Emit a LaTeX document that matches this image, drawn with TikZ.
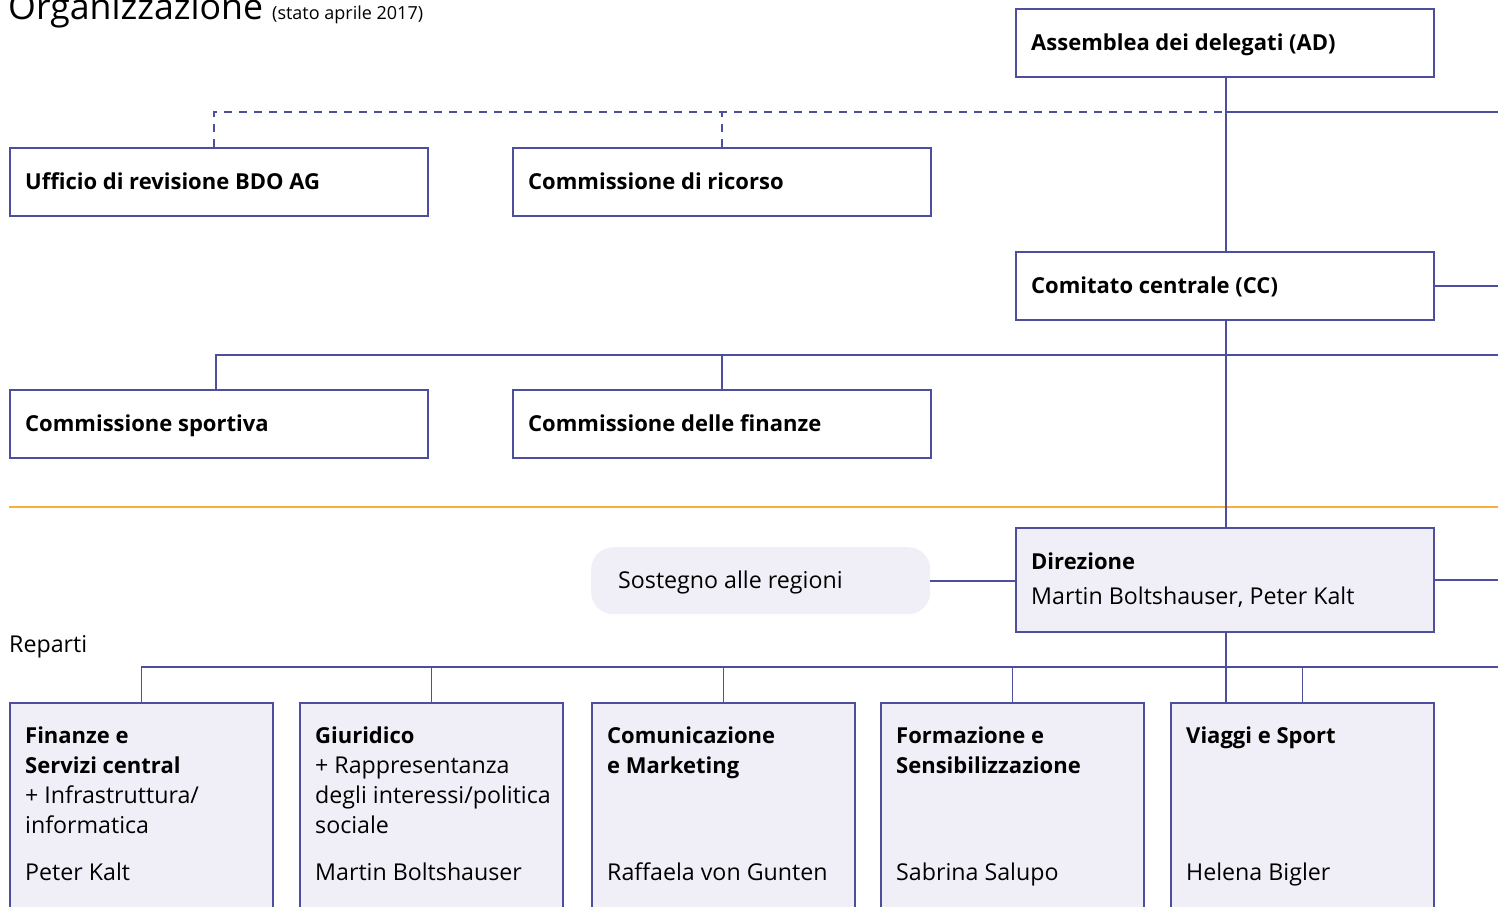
\documentclass[tikz,border=0pt]{standalone}
\usepackage{fontspec}
\setmainfont{Open Sans}
\usetikzlibrary{calc}
\definecolor{bl}{RGB}{77,79,158}
\definecolor{lav}{RGB}{240,239,247}
\definecolor{org}{RGB}{247,175,58}
\newcommand\replines[1]{\vtop{\baselineskip=30pt\halign{##\hfil\cr#1\crcr}}}
\begin{document}
\begin{tikzpicture}[x=1pt,y=-1pt,
  box/.style={draw=bl, line width=1.6pt, minimum width=418pt, minimum height=68pt, anchor=north west, inner sep=0pt},
  dbox/.style={box, fill=lav, minimum width=263pt, minimum height=240pt},
  lbl/.style={anchor=base west, inner sep=0pt, font=\fontsize{22}{30}\selectfont\bfseries},
  txt/.style={anchor=base west, inner sep=0pt, font=\fontsize{23.2}{30}\selectfont},
  conn/.style={draw=bl, line width=1.6pt},
  dconn/.style={conn, dash pattern=on 8pt off 7pt}]
\useasboundingbox (0,0) rectangle (1498,906);
\clip (0,0) rectangle (1498,906);

% title
\node[anchor=base west, inner sep=0pt, font=\fontsize{35.7}{40}\selectfont] (title) at (8,19) {Organizzazione};
\node[anchor=base west, inner sep=0pt, font=\fontsize{18}{20}\selectfont] (sub) at (272,19) {(stato aprile 2017)};

% upper boxes
\node[box] (ad) at (1015,8) {};
\node[lbl] (adt) at ($(ad.north west)+(16,42)$) {Assemblea dei delegati (AD)};
\node[box] (uff) at (9,147) {};
\node[lbl] (ufft) at ($(uff.north west)+(16,42)$) {Ufficio di revisione BDO AG};
\node[box] (ric) at (512,147) {};
\node[lbl] (rict) at ($(ric.north west)+(16,42)$) {Commissione di ricorso};
\node[box] (cc) at (1015,251) {};
\node[lbl] (cct) at ($(cc.north west)+(16,42)$) {Comitato centrale (CC)};
\node[box] (spo) at (9,389) {};
\node[lbl] (spot) at ($(spo.north west)+(16,42)$) {Commissione sportiva};
\node[box] (fin) at (512,389) {};
\node[lbl] (fint) at ($(fin.north west)+(16,42)$) {Commissione delle finanze};

% orange separator
\coordinate (o1) at (9,507);
\coordinate (o2) at (1498,507);
\draw[org, line width=1.6pt] (o1) -- (o2);

% direzione
\node[box, fill=lav, minimum height=104pt] (dir) at (1015,527) {};
\node[lbl] (dirt) at ($(dir.north west)+(16,42)$) {Direzione};
\node[txt] (dirn) at ($(dir.north west)+(16,77)$) {Martin Boltshauser, Peter Kalt};
\node[fill=lav, rounded corners=22pt, minimum width=339pt, minimum height=67pt, anchor=north west, inner sep=0pt] (sos) at (591,547) {};
\node[txt] (sost) at ($(sos.north west)+(27,41)$) {Sostegno alle regioni};

\node[txt] (rep) at (9,652) {Reparti};

% departments
\node[dbox] (d1) at (9,702) {};
\node[dbox] (d2) at (299,702) {};
\node[dbox] (d3) at (591,702) {};
\node[dbox] (d4) at (880,702) {};
\node[dbox] (d5) at (1170,702) {};
\node[txt] (d1t) at ($(d1.north west)+(16,41)$) {\replines{\fontsize{22}{30}\selectfont\bfseries Finanze e\cr\fontsize{22}{30}\selectfont\bfseries Servizi central\cr + Infrastruttura/\cr informatica}};
\node[txt] (d2t) at ($(d2.north west)+(16,41)$) {\replines{\fontsize{22}{30}\selectfont\bfseries Giuridico\cr + Rappresentanza\cr degli interessi/politica\cr sociale}};
\node[lbl] (d3t) at ($(d3.north west)+(16,41)$) {\replines{Comunicazione\cr e Marketing}};
\node[lbl] (d4t) at ($(d4.north west)+(16,41)$) {\replines{Formazione e\cr Sensibilizzazione}};
\node[lbl] (d5t) at ($(d5.north west)+(16,41)$) {Viaggi e Sport};
\node[txt] (d1n) at ($(d1.north west)+(16,178)$) {Peter Kalt};
\node[txt] (d2n) at ($(d2.north west)+(16,178)$) {Martin Boltshauser};
\node[txt] (d3n) at ($(d3.north west)+(16,178)$) {Raffaela von Gunten};
\node[txt] (d4n) at ($(d4.north west)+(16,178)$) {Sabrina Salupo};
\node[txt] (d5n) at ($(d5.north west)+(16,178)$) {Helena Bigler};

% junctions and free ends
\coordinate (ja) at (1226,112);
\coordinate (ea) at (1498,112);
\coordinate (ec) at (1498,285);
\coordinate (jb) at (1226,355);
\coordinate (eb) at (1498,355);
\coordinate (ed) at (1498,580);
\coordinate (jr) at (1498,667);

% connectors
\draw[conn] (ad.south -| ja) -- (cc.north -| ja);
\draw[conn] (cc.south -| ja) -- (dir.north -| ja);
\draw[conn] (dir.south -| ja) -- (d5.north -| ja);
\draw[dconn] ($(uff.north west)+(205,0)$) |- (ja);
\draw[dconn] (ric.north) -- (ric.north |- ja);
\draw[conn] (ja) -- (ea);
\draw[conn] (cc.east) -- (cc.east -| ec);
\draw[conn] ($(spo.north west)+(207,0)$) |- (eb);
\draw[conn] (fin.north) -- (fin.north |- jb);
\draw[conn] (sos.east) -- (sos.east -| dir.west);
\draw[conn] (dir.east) -- (dir.east -| ed);
\draw[conn] (d1.north) |- (jr);
\draw[conn] (d2.north) -- (d2.north |- jr);
\draw[conn] (d3.north) -- (d3.north |- jr);
\draw[conn] (d4.north) -- (d4.north |- jr);
\draw[conn] (d5.north) -- (d5.north |- jr);
\end{tikzpicture}
\end{document}
